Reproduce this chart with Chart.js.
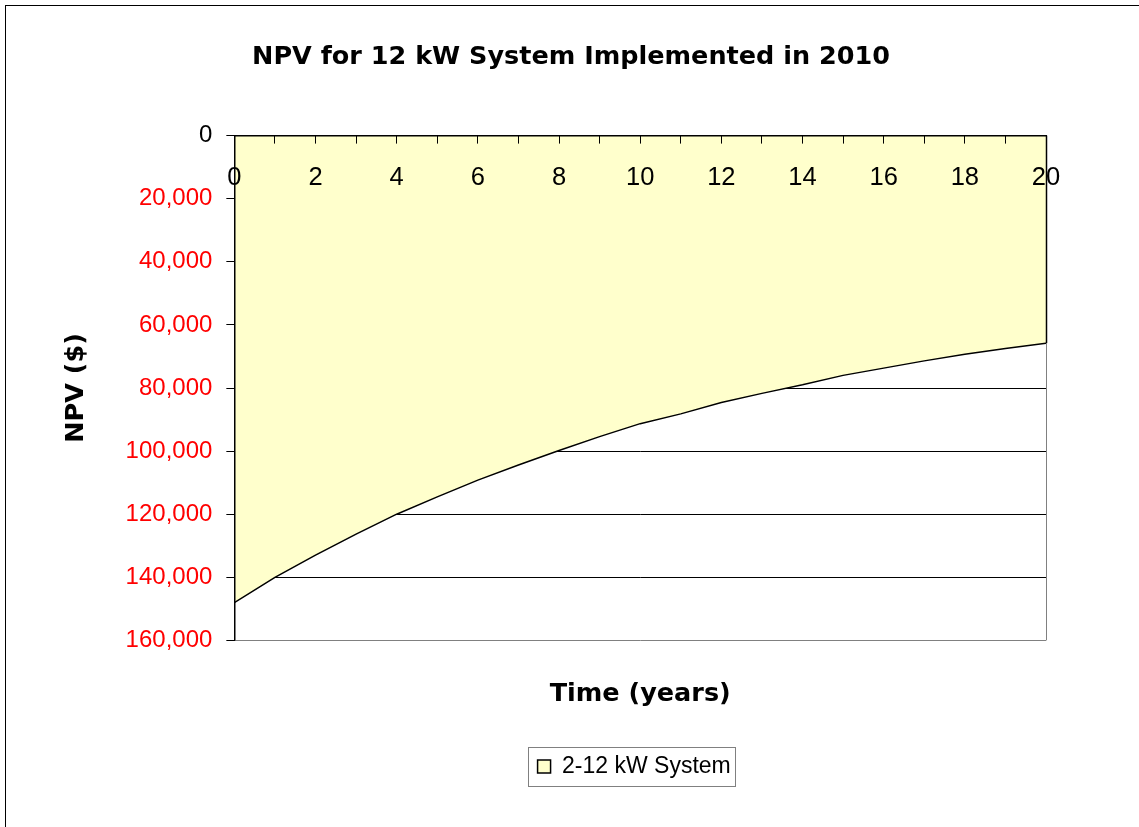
<!DOCTYPE html>
<html>
<head>
<meta charset="utf-8">
<title>NPV for 12 kW System</title>
<script src="https://cdn.jsdelivr.net/npm/chart.js@4"></script>
<style>
    html, body { margin: 0; padding: 0; background: #fff; overflow: hidden; }
    #frame { position: absolute; left: 5px; top: 5px; width: 1200px; height: 900px; border: 1px solid #000; }
    #wrap { position: absolute; left: 0; top: 0; width: 1139px; height: 827px; }
</style>
</head>
<body>
<div id="frame"></div>
<div id="wrap"><canvas id="npvChart" width="1139" height="827"></canvas></div>
<script>
// years after installation and the NPV (negative = cost)
const years = [0, 1, 2, 3, 4, 5, 6, 7, 8, 9, 10, 11, 12, 13, 14, 15, 16, 17, 18, 19, 20];
const npvValues = [-148000, -140000, -133000, -126300, -120000, -114500, -109200, -104400, -99800, -95400,
    -91300, -88200, -84600, -81700, -79000, -76000, -73700, -71400, -69300, -67500, -65800];
const seriesLabel = "2-12 kW System";
const chartTitle = "NPV for 12 kW System Implemented in 2010";
const xTitle = "Time (years)";
const yTitle = "NPV ($)";

const boldFont = { family: "DejaVu Sans", weight: "bold", size: 25.5 };

Chart.defaults.font.family = "Liberation Sans";
Chart.defaults.color = "#000";

// nudge title and legend sideways to where the original has them
const shiftBoxes = {
    id: "shiftBoxes",
    afterLayout(chart) {
        chart.titleBlock.left += 28;
        chart.titleBlock.right += 28;
        chart.legend.left -= 6;
        chart.legend.right -= 6;
    }
};

// black outline of the area on the right edge, grey plot border below it
const plotEdge = {
    id: "plotEdge",
    afterDatasetsDraw(chart) {
        const { ctx, chartArea, scales } = chart;
        const yLast = scales.y.getPixelForValue(npvValues[npvValues.length - 1]);
        const x = Math.round(chartArea.right) + 0.5;
        ctx.save();
        ctx.lineWidth = 1;
        ctx.strokeStyle = "#808080";
        ctx.beginPath();
        ctx.moveTo(x, yLast);
        ctx.lineTo(x, chartArea.bottom);
        ctx.stroke();
        ctx.strokeStyle = "#000";
        ctx.lineWidth = 1.5;
        ctx.beginPath();
        ctx.moveTo(x, chartArea.top);
        ctx.lineTo(x, yLast);
        ctx.stroke();
        ctx.restore();
    }
};

// box round the legend
const legendFrame = {
    id: "legendFrame",
    afterDraw(chart) {
        const hb = chart.legend.legendHitBoxes[0];
        if (!hb) return;
        const { ctx } = chart;
        ctx.save();
        ctx.strokeStyle = "#808080";
        ctx.lineWidth = 1;
        ctx.strokeRect(Math.round(hb.left - 10) + 0.5, Math.round(hb.top - 8) + 0.5,
            Math.round(hb.width + 14), Math.round(hb.height + 16));
        ctx.restore();
    }
};

new Chart(document.getElementById("npvChart"), {
    type: "line",
    data: {
        labels: years,
        datasets: [{
            label: seriesLabel,
            data: years.map((y, i) => ({ x: y, y: npvValues[i] })),
            fill: "origin",
            backgroundColor: "#FFFFCC",
            borderColor: "#000",
            borderWidth: 1.5,
            pointRadius: 0,
            tension: 0,
            xAxisID: "x",
            yAxisID: "y"
        }]
    },
    options: {
        responsive: false,
        animation: false,
        layout: { padding: { left: 40, right: 93, top: 0, bottom: 39 } },
        plugins: {
            title: {
                display: true,
                text: chartTitle,
                font: boldFont,
                color: "#000",
                padding: { top: 42, bottom: 17 }
            },
            legend: {
                position: "bottom",
                fullSize: false,
                labels: {
                    font: { size: 23 },
                    color: "#000",
                    boxWidth: 13,
                    boxHeight: 13,
                    padding: 10
                }
            },
            tooltip: { enabled: false }
        },
        scales: {
            x: {
                type: "linear",
                position: "top",
                min: 0,
                max: 20,
                grid: { drawOnChartArea: false, tickLength: -8, color: "#000", z: 1 },
                border: { color: "#000", width: 1.5, z: 1 },
                ticks: {
                    stepSize: 1,
                    autoSkip: false,
                    maxRotation: 0,
                    mirror: true,
                    padding: 27,
                    font: { size: 25.5 },
                    color: "#000",
                    z: 1,
                    callback: v => (v % 2 === 0 ? String(v) : "")
                }
            },
            x2: {
                type: "linear",
                position: "bottom",
                min: 0,
                max: 20,
                grid: { display: false },
                border: { display: false },
                ticks: { display: false },
                title: {
                    display: true,
                    text: xTitle,
                    font: boldFont,
                    color: "#000",
                    padding: { top: 31, bottom: 35 }
                }
            },
            y: {
                position: "left",
                min: -160000,
                max: 0,
                grid: {
                    color: ctx => (ctx.tick && ctx.tick.value === -160000 ? "#808080" : "#000"),
                    tickColor: "#000",
                    tickLength: 8
                },
                border: { color: "#000", width: 1.5, z: 1 },
                ticks: {
                    stepSize: 20000,
                    padding: 14,
                    font: { size: 24 },
                    color: ctx => (ctx.tick.value < 0 ? "#FF0000" : "#000"),
                    callback: v => Math.abs(v).toLocaleString("en-US")
                },
                title: {
                    display: true,
                    text: yTitle,
                    font: boldFont,
                    color: "#000",
                    padding: { top: 21, bottom: 20 }
                }
            }
        }
    },
    plugins: [shiftBoxes, plotEdge, legendFrame]
});
</script>
</body>
</html>
